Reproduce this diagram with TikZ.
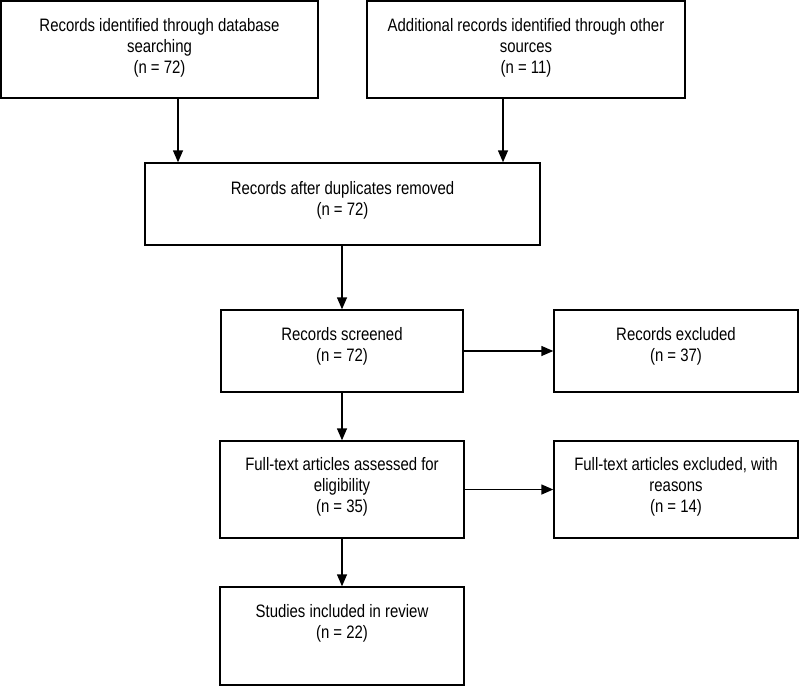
\documentclass[tikz,border=0pt]{standalone}
\usepackage{fontspec}
\setmainfont{Liberation Sans}[FakeStretch=0.83]
\usetikzlibrary{arrows.meta}
\begin{document}
\begin{tikzpicture}[x=1pt,y=1pt,
	box/.style={draw,line width=1.4pt,rectangle,inner sep=0pt},
	lbl/.style={anchor=north,align=center,inner sep=0pt,font=\fontsize{18}{21}\selectfont},
	arr/.style={line width=1.4pt,-{Triangle[width=10pt,length=12pt]}}]
	\useasboundingbox (0,0) rectangle (800,-686);
	% identification
	\node[box,minimum width=317pt,minimum height=97pt] (ident) at (159.5,-49.5) {};
	\node[lbl] (identtxt) at ([yshift=-18pt]ident.north) {Records identified through database\\searching\\(n = 72)};
	\node[box,minimum width=318pt,minimum height=97pt] (other) at (526,-49.5) {};
	\node[lbl] (othertxt) at ([yshift=-18pt]other.north) {Additional records identified through other\\sources\\(n = 11)};
	% screening
	\node[box,minimum width=395pt,minimum height=82pt] (dedup) at (342.5,-204) {};
	\node[lbl] (deduptxt) at ([yshift=-19pt]dedup.north) {Records after duplicates removed\\(n = 72)};
	\node[box,minimum width=242pt,minimum height=82pt] (screen) at (342,-351) {};
	\node[lbl] (screentxt) at ([yshift=-18pt]screen.north) {Records screened\\(n = 72)};
	\node[box,minimum width=244pt,minimum height=82pt] (excl) at (676,-351) {};
	\node[lbl] (excltxt) at ([yshift=-18pt]excl.north) {Records excluded\\(n = 37)};
	% eligibility
	\node[box,minimum width=244pt,minimum height=97pt] (full) at (342,-489.5) {};
	\node[lbl] (fulltxt) at ([yshift=-17pt]full.north) {Full-text articles assessed for\\eligibility\\(n = 35)};
	\node[box,minimum width=244pt,minimum height=97pt] (fullex) at (676,-489.5) {};
	\node[lbl] (fullextxt) at ([yshift=-17pt]fullex.north) {Full-text articles excluded, with\\reasons\\(n = 14)};
	% included
	\node[box,minimum width=244pt,minimum height=98pt] (incl) at (342,-636) {};
	\node[lbl] (incltxt) at ([yshift=-18pt]incl.north) {Studies included in review\\(n = 22)};
	% arrows
	\draw[arr] ([xshift=18.5pt]ident.south) -- ([xshift=18.5pt]ident.south |- dedup.north);
	\draw[arr] ([xshift=-23pt]other.south) -- ([xshift=-23pt]other.south |- dedup.north);
	\draw[arr] (dedup.south -| screen.north) -- (screen.north);
	\draw[arr] (screen.east) -- (excl.west);
	\draw[arr] (screen.south) -- (full.north);
	\draw[arr] (full.east) -- (fullex.west);
	\draw[arr] (full.south) -- (incl.north);
\end{tikzpicture}
\end{document}
